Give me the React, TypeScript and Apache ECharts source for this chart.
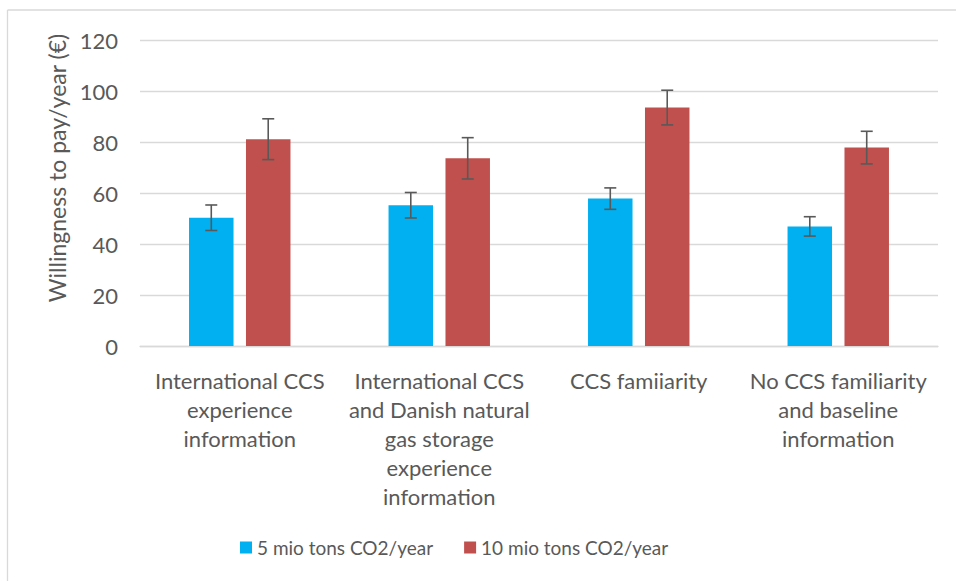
import React, { useEffect, useRef } from "react";
import * as echarts from "echarts";

const categories = [
  "International CCS\nexperience\ninformation",
  "International CCS\nand Danish natural\ngas storage\nexperience\ninformation",
  "CCS famiiarity",
  "No CCS familiarity\nand baseline\ninformation",
];
const seriesNames = ["5 mio tons CO2/year", "10 mio tons CO2/year"];
const values5 = [50.3, 55.2, 57.8, 46.9];
const err5 = [5.0, 5.0, 4.2, 3.8];
const values10 = [81.1, 73.6, 93.5, 77.8];
const err10 = [8.0, 8.1, 6.8, 6.4];
const yTicks = { min: 0, max: 120, interval: 20 };
const yTitle = "Willingness to pay/year (€)";

const FONT = "Lato, 'Open Sans', sans-serif";
const TEXT = "#595959";
const BLUE = "#00B0F0";
const RED = "#C0504D";

const BAR_PCT = 0.223;
const GAP_PCT = 0.28;

function errorSeries(name: string, vals: number[], errs: number[], sign: number) {
  return {
    type: "custom",
    name: name + " error",
    z: 10,
    silent: true,
    data: vals.map((v, i) => [i, v - errs[i], v + errs[i]]),
    renderItem: (params: any, api: any) => {
      const idx = api.value(0);
      const lo = api.coord([idx, api.value(1)]);
      const hi = api.coord([idx, api.value(2)]);
      const catW = api.size([1, 0])[0];
      const bw = catW * BAR_PCT;
      const off = sign * (bw + bw * GAP_PCT) / 2;
      const x = lo[0] + off;
      const cap = 6;
      const style = { stroke: "#595959", lineWidth: 1.6, fill: "none" };
      return {
        type: "group",
        children: [
          { type: "line", shape: { x1: x, y1: hi[1], x2: x, y2: lo[1] }, style },
          { type: "line", shape: { x1: x - cap, y1: hi[1], x2: x + cap, y2: hi[1] }, style },
          { type: "line", shape: { x1: x - cap, y1: lo[1], x2: x + cap, y2: lo[1] }, style },
        ],
      };
    },
  };
}

export default function App() {
  const ref = useRef<HTMLDivElement>(null);
  useEffect(() => {
    if (!ref.current) return;
    const chart = echarts.init(ref.current, undefined, { renderer: "svg" });
    chart.setOption({
      animation: false,
      backgroundColor: "#ffffff",
      textStyle: { fontFamily: FONT, color: TEXT },
      grid: { left: 140, right: 18, top: 40, bottom: 235, containLabel: false },
      legend: {
        left: 240,
        top: 538,
        padding: 0,
        icon: "rect",
        itemWidth: 12,
        itemHeight: 12,
        itemGap: 31,
        data: seriesNames,
        textStyle: { fontFamily: FONT, fontSize: 19, color: TEXT },
      },
      xAxis: {
        type: "category",
        data: categories,
        axisLine: { show: true, lineStyle: { color: "#d9d9d9", width: 1.3 } },
        axisTick: { show: false },
        axisLabel: {
          interval: 0,
          margin: 20,
          fontFamily: FONT,
          fontSize: 22,
          lineHeight: 29,
          color: TEXT,
          align: "center",
        },
      },
      yAxis: {
        type: "value",
        min: yTicks.min,
        max: yTicks.max,
        interval: yTicks.interval,
        axisLine: { show: false },
        axisTick: { show: false },
        splitLine: { lineStyle: { color: "#d9d9d9", width: 1.3 } },
        axisLabel: { margin: 22, fontFamily: FONT, fontSize: 22, color: TEXT },
      },
      graphic: [
        {
          type: "text",
          x: 57,
          y: 168,
          rotation: Math.PI / 2,
          style: {
            text: yTitle,
            fontFamily: FONT,
            fontSize: 23,
            fill: TEXT,
            align: "center",
            verticalAlign: "middle",
          },
        },
        {
          type: "line",
          shape: { x1: 7.5, y1: 10, x2: 956, y2: 10 },
          style: { stroke: "#d9d9d9", lineWidth: 1.3 },
        },
        {
          type: "line",
          shape: { x1: 7.5, y1: 10, x2: 7.5, y2: 581 },
          style: { stroke: "#d9d9d9", lineWidth: 1.3 },
        },
      ],
      series: [
        {
          type: "bar",
          name: seriesNames[0],
          data: values5,
          barWidth: (BAR_PCT * 100).toFixed(1) + "%",
          barGap: (GAP_PCT * 100).toFixed(0) + "%",
          itemStyle: { color: BLUE },
        },
        {
          type: "bar",
          name: seriesNames[1],
          data: values10,
          barWidth: (BAR_PCT * 100).toFixed(1) + "%",
          barGap: (GAP_PCT * 100).toFixed(0) + "%",
          itemStyle: { color: RED },
        },
        errorSeries(seriesNames[0], values5, err5, -1),
        errorSeries(seriesNames[1], values10, err10, 1),
      ],
    });
    return () => chart.dispose();
  }, []);
  return <div ref={ref} style={{ width: 956, height: 581, position: "absolute", left: 0, top: 0 }} />;
}
